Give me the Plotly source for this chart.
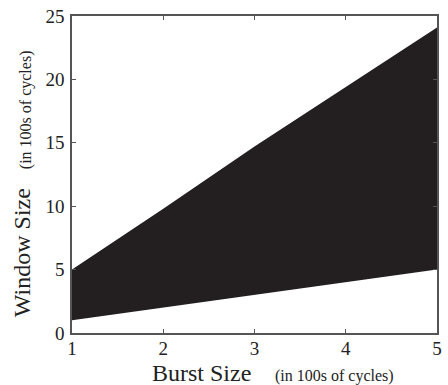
import plotly.graph_objects as go

burst = [1, 2, 3, 4, 5]
window_min = [1, 2, 3, 4, 5]
window_max = [5, 9.8, 14.7, 19.4, 24.1]

x_ticks = [1, 2, 3, 4, 5]
y_ticks = [0, 5, 10, 15, 20, 25]

FONT = "Liberation Serif"
FILL = "#231f20"
AXIS = "#555555"

fig = go.Figure()
fig.add_trace(go.Scatter(x=burst, y=window_min, mode="lines",
                         line=dict(width=0, color=FILL), showlegend=False, hoverinfo="skip"))
fig.add_trace(go.Scatter(x=burst, y=window_max, mode="lines", fill="tonexty",
                         fillcolor=FILL, line=dict(width=0, color=FILL),
                         showlegend=False, hoverinfo="skip"))

axis_common = dict(showline=True, linecolor=AXIS, linewidth=1.5, mirror="ticks",
                   ticks="inside", ticklen=4, tickcolor=AXIS, tickwidth=1,
                   showgrid=False, zeroline=False,
                   tickfont=dict(family=FONT, size=19, color="#222222"))

fig.update_xaxes(range=[1, 5], tickvals=x_ticks, ticklabelstandoff=-3, **axis_common)
fig.update_yaxes(range=[0, 25], tickvals=y_ticks, ticklabelstandoff=2, **axis_common)

fig.update_layout(
    width=448, height=385,
    margin=dict(l=72, r=6, t=16, b=52),
    paper_bgcolor="white", plot_bgcolor="white",
    annotations=[
        dict(text="Burst Size", xref="paper", yref="paper", x=0.214, y=-0.127,
             xanchor="left", yanchor="middle", showarrow=False,
             font=dict(family=FONT, size=24, color="#222222")),
        dict(text="(in 100s of cycles)", xref="paper", yref="paper", x=0.552, y=-0.137,
             xanchor="left", yanchor="middle", showarrow=False,
             font=dict(family=FONT, size=16, color="#222222")),
        dict(text="Window Size", xref="paper", yref="paper", x=-0.137, y=0.255,
             xanchor="center", yanchor="middle", textangle=-90, showarrow=False,
             font=dict(family=FONT, size=24, color="#222222")),
        dict(text="(in 100s of cycles)", xref="paper", yref="paper", x=-0.127, y=0.705,
             xanchor="center", yanchor="middle", textangle=-90, showarrow=False,
             font=dict(family=FONT, size=16, color="#222222")),
    ],
)

fig.write_html("out.html")
